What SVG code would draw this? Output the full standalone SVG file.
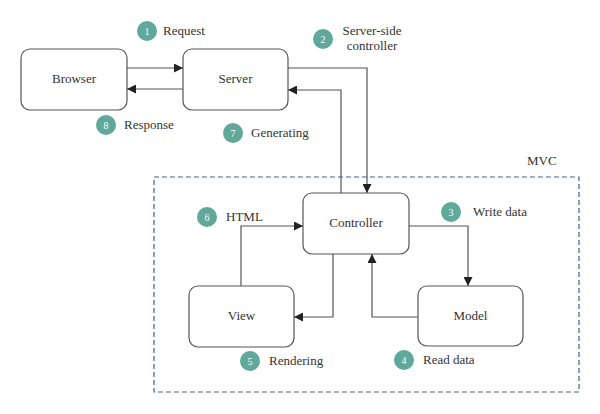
<svg xmlns="http://www.w3.org/2000/svg" width="600" height="414" viewBox="0 0 600 414">
<defs>
<marker id="ah" viewBox="0 0 10 10" refX="10" refY="5" markerWidth="9" markerHeight="9" markerUnits="userSpaceOnUse" orient="auto">
<path d="M0,0 L10,5 L0,10 z" fill="#222"/>
</marker>
<style>
.box{fill:#fff;stroke:#555;stroke-width:1.2}
.lbl{font-family:'Liberation Serif','Times New Roman','DejaVu Serif',serif;font-size:13px;fill:#333}
.num{font-family:'Liberation Serif','Times New Roman','DejaVu Serif',serif;font-size:10px;fill:#fff;text-anchor:middle}
.badge{fill:#5fa89a}
.con{fill:none;stroke:#555;stroke-width:1.2}
</style>
</defs>
<rect width="600" height="414" fill="#fff"/>
<rect x="154" y="177" width="425" height="215" fill="none" stroke="#4a5a9a" stroke-width="1.2" stroke-dasharray="5,3"/>
<text class="lbl" x="527" y="165">MVC</text>
<g id="connectors">
<path class="con" d="M127,68 H183" marker-end="url(#ah)"/>
<path class="con" d="M183,89 H127" marker-end="url(#ah)"/>
<path class="con" d="M288,68 H367 V193" marker-end="url(#ah)"/>
<path class="con" d="M341,193 V90 H288" marker-end="url(#ah)"/>
<path class="con" d="M409,226 H468 V286" marker-end="url(#ah)"/>
<path class="con" d="M418,317 H372 V254" marker-end="url(#ah)"/>
<path class="con" d="M333,254 V317 H294" marker-end="url(#ah)"/>
<path class="con" d="M241,286 V226 H303" marker-end="url(#ah)"/>
</g>
<g id="browser"><rect class="box" x="21" y="49" width="106" height="61" rx="9"/><text class="lbl" x="74" y="83" text-anchor="middle">Browser</text></g>
<g id="server"><rect class="box" x="183" y="49" width="105" height="61" rx="9"/><text class="lbl" x="235.5" y="83" text-anchor="middle">Server</text></g>
<g id="controller"><rect class="box" x="303" y="193" width="106" height="61" rx="9"/><text class="lbl" x="356" y="227" text-anchor="middle">Controller</text></g>
<g id="view"><rect class="box" x="189" y="286" width="105" height="61" rx="9"/><text class="lbl" x="241.5" y="320" text-anchor="middle">View</text></g>
<g id="model"><rect class="box" x="418" y="286" width="105" height="60" rx="9"/><text class="lbl" x="470.5" y="320" text-anchor="middle">Model</text></g>
<g id="step1"><circle class="badge" cx="147" cy="31" r="10"/><text class="num" x="147" y="35">1</text><text class="lbl" x="163" y="35">Request</text></g>
<g id="step2"><circle class="badge" cx="323" cy="39" r="10"/><text class="num" x="323" y="43">2</text><text class="lbl" x="372" y="35" text-anchor="middle">Server-side</text><text class="lbl" x="372" y="50" text-anchor="middle">controller</text></g>
<g id="step3"><circle class="badge" cx="451" cy="212" r="10"/><text class="num" x="451" y="216">3</text><text class="lbl" x="473" y="216">Write data</text></g>
<g id="step4"><circle class="badge" cx="404" cy="360" r="10"/><text class="num" x="404" y="364">4</text><text class="lbl" x="423" y="364">Read data</text></g>
<g id="step5"><circle class="badge" cx="250" cy="361" r="10"/><text class="num" x="250" y="365">5</text><text class="lbl" x="269" y="365">Rendering</text></g>
<g id="step6"><circle class="badge" cx="207" cy="217" r="10"/><text class="num" x="207" y="221">6</text><text class="lbl" x="226" y="221">HTML</text></g>
<g id="step7"><circle class="badge" cx="233" cy="133" r="10"/><text class="num" x="233" y="137">7</text><text class="lbl" x="251" y="137">Generating</text></g>
<g id="step8"><circle class="badge" cx="106" cy="125" r="10"/><text class="num" x="106" y="129">8</text><text class="lbl" x="124" y="129">Response</text></g>
</svg>
